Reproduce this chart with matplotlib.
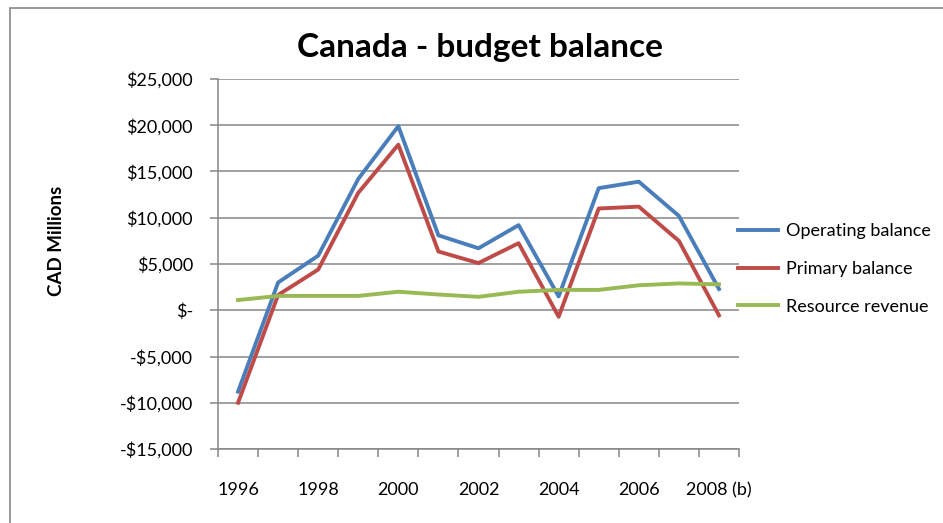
import numpy as np
import matplotlib
matplotlib.use('Agg')
from matplotlib import pyplot as plt
from matplotlib.ticker import FixedLocator, FuncFormatter

plt.rcParams['font.family'] = ['Lato', 'DejaVu Sans']

years = ['1996', '1997', '1998', '1999', '2000', '2001', '2002',
         '2003', '2004', '2005', '2006', '2007', '2008 (b)']
operating = [-8800, 3000, 5900, 14200, 19900, 8100, 6700,
             9200, 1500, 13200, 13900, 10200, 2300]
primary = [-10000, 1650, 4400, 12700, 17900, 6350, 5100,
           7250, -700, 11000, 11200, 7500, -550]
resource = [1100, 1550, 1550, 1550, 2000, 1700, 1450,
            2000, 2200, 2200, 2700, 2900, 2800]
yticks = [-15000, -10000, -5000, 0, 5000, 10000, 15000, 20000, 25000]

def money(v, pos=None):
    if v == 0:
        return '$-'
    s = '${:,.0f}'.format(abs(v))
    return '-' + s if v < 0 else s

W, H = 943, 523
fig = plt.figure(figsize=(W / 100, H / 100), dpi=100)
# chart frame (partly cut off on the right and bottom)
fig.add_artist(plt.Rectangle((10 / W, -0.1), 1.2, 1 - 8 / H + 0.1, transform=fig.transFigure,
                             fill=False, edgecolor='#888888', linewidth=1.2))

ax = fig.add_axes([218 / W, 1 - 449 / H, (739 - 218) / W, (449 - 79) / H])
x = np.arange(len(years))
ax.plot(x, operating, color='#4A7EBB', lw=2.8, label='Operating balance', zorder=3)
ax.plot(x, primary, color='#BE4B48', lw=2.8, label='Primary balance', zorder=3)
ax.plot(x, resource, color='#98B954', lw=2.8, label='Resource revenue', zorder=3)

ax.set_xlim(-0.5, len(years) - 0.5)
ax.set_ylim(-15000, 25000)
ax.yaxis.set_major_locator(FixedLocator(yticks))
ax.yaxis.set_major_formatter(FuncFormatter(money))
ax.grid(axis='y', color='#868686', lw=1.1)
ax.set_axisbelow(True)

ax.set_xticks(x[::2])
ax.set_xticklabels(years[::2])
ax.set_xticks(np.arange(-0.5, len(years)), minor=True)
ax.tick_params(axis='x', which='major', length=0, pad=24, labelsize=13)
ax.tick_params(axis='x', which='minor', length=6, color='#868686', width=1.1)
ax.tick_params(axis='y', length=6, color='#868686', width=1.1, pad=12, labelsize=13)

for s in ['top', 'right']:
    ax.spines[s].set_visible(False)
for s in ['left', 'bottom']:
    ax.spines[s].set_color('#868686')
    ax.spines[s].set_linewidth(1.1)

fig.text(56 / W, 1 - 241 / H, 'CAD Millions', rotation=90, ha='center', va='center',
         fontsize=13.5, fontweight='bold')
fig.text(480 / W, 1 - 48 / H, 'Canada - budget balance', ha='center', va='center',
         fontsize=24, fontweight='bold')

fig.legend(loc='center left', bbox_to_anchor=(722 / W, 1 - 269 / H), frameon=False,
           fontsize=13, handlelength=2.2, handletextpad=0.45, labelspacing=1.2)

fig.savefig('out.png', dpi=100)
